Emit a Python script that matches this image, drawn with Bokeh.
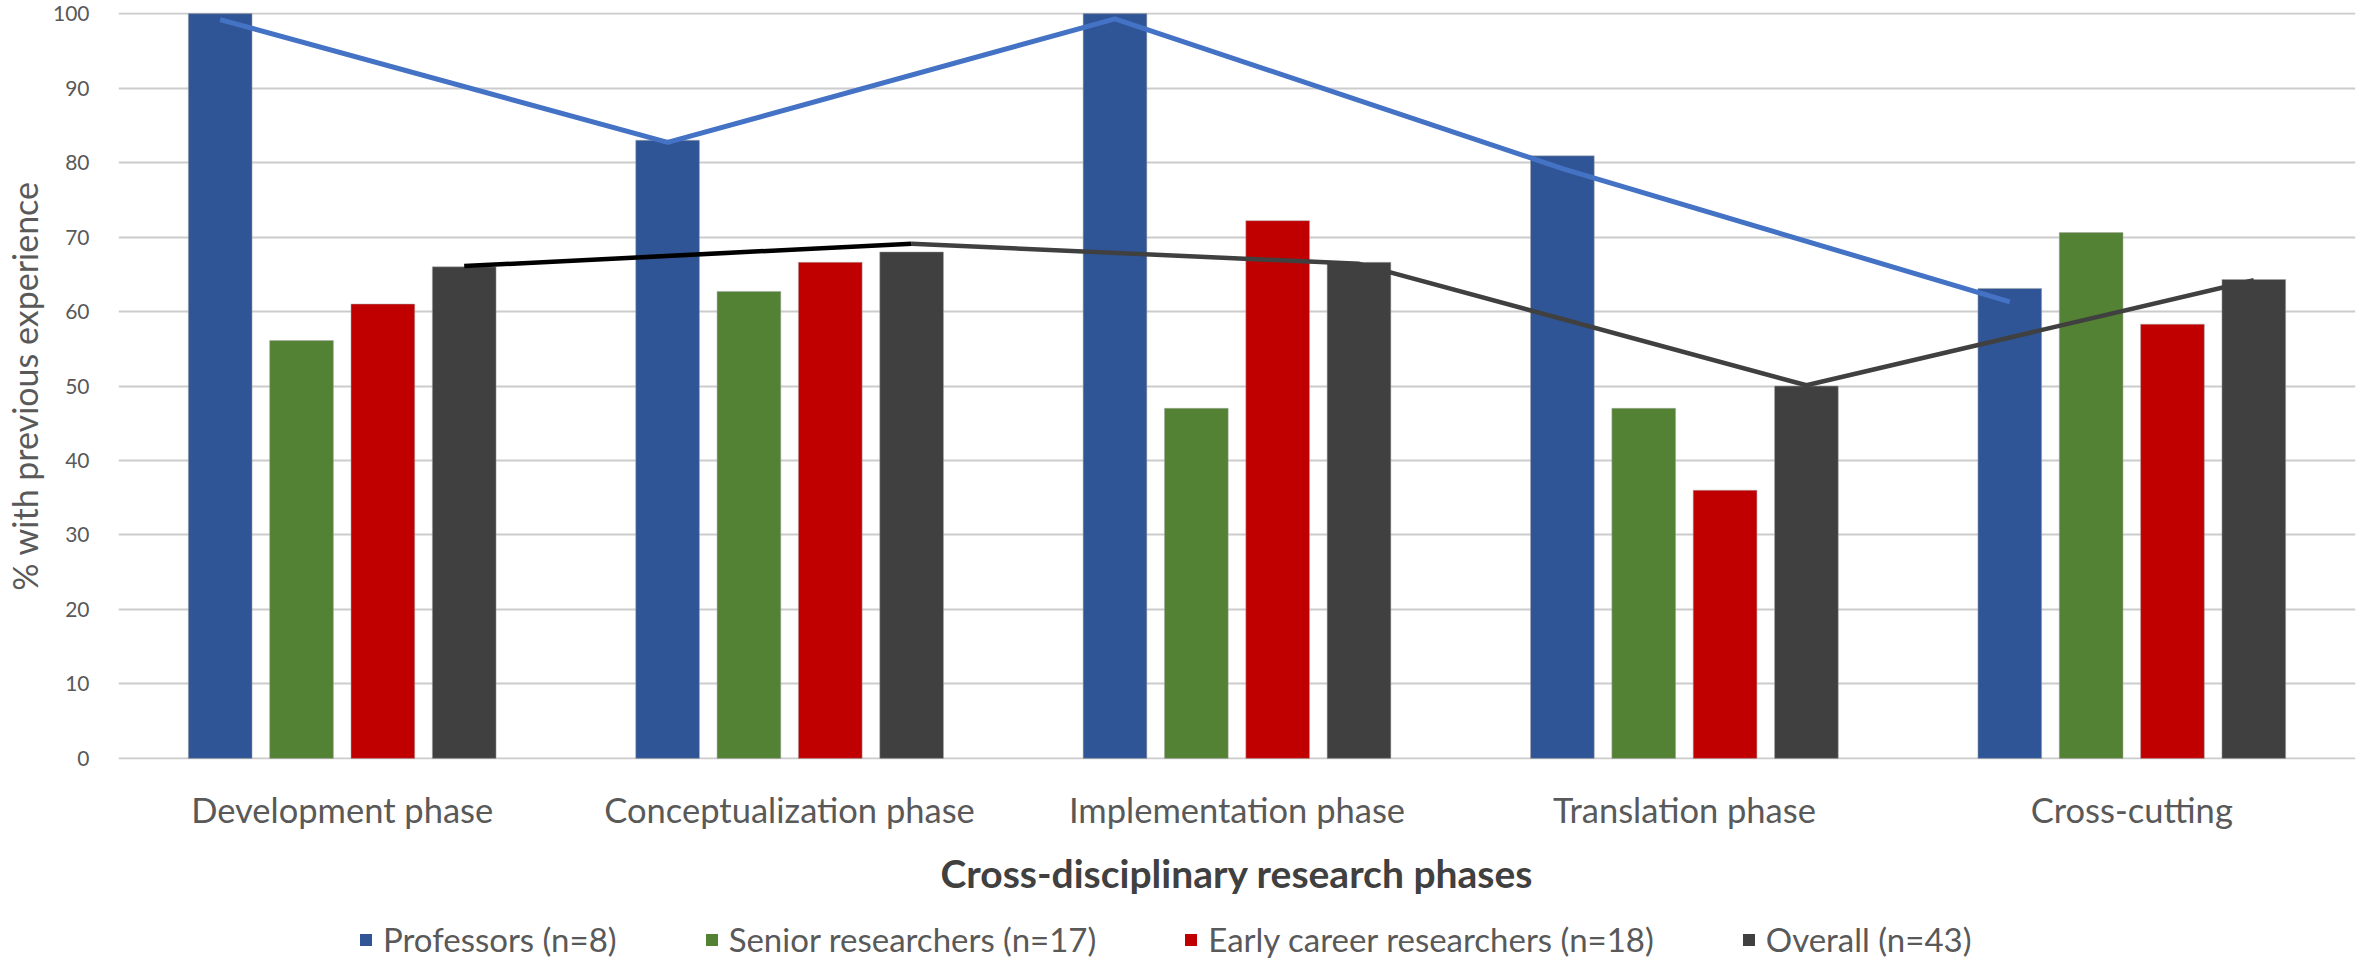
from bokeh.plotting import figure
from bokeh.layouts import column
from bokeh.models import (FactorRange, Range1d, ColumnDataSource, FixedTicker,
                          Legend, LegendItem)
from bokeh.transform import dodge
from bokeh.embed import file_html
from bokeh.resources import INLINE

# ---- data -------------------------------------------------------------
phases = ["Development phase", "Conceptualization phase", "Implementation phase",
          "Translation phase", "Cross-cutting"]
professors = [100.0, 83.0, 100.0, 80.9, 63.1]
senior = [56.1, 62.7, 47.0, 47.0, 70.6]
early_career = [61.0, 66.6, 72.2, 36.0, 58.3]
overall = [66.0, 68.0, 66.6, 50.0, 64.3]
professors_line = [99.2, 82.7, 99.3, 79.2, 61.3]
overall_line = [66.1, 69.1, 66.4, 50.1, 64.2]
series_labels = ["Professors (n=8)", "Senior researchers (n=17)",
                 "Early career researchers (n=18)", "Overall (n=43)"]
y_ticks = [0, 10, 20, 30, 40, 50, 60, 70, 80, 90, 100]
x_title = "Cross-disciplinary research phases"
y_title = "% with previous experience"

# ---- styling ----------------------------------------------------------
FONT = "Lato"
bar_colors = ["#2F5597", "#548235", "#C00000", "#404040"]
offsets = [-0.2727, -0.0909, 0.0909, 0.2727]
bar_width = 0.1424
keys = ["prof", "senior", "early", "overall"]

src = ColumnDataSource(dict(phase=phases, prof=professors, senior=senior,
                            early=early_career, overall=overall,
                            prof_line=professors_line, overall_line=overall_line))

p = figure(x_range=FactorRange(*phases), y_range=Range1d(-0.15, 100.15),
           width=2356, height=900, output_backend="svg", toolbar_location=None,
           min_border_left=108, min_border_right=1, min_border_top=12,
           min_border_bottom=141)
p.outline_line_color = None
p.background_fill_color = "white"
p.border_fill_color = "white"

for key, col, off in zip(keys, bar_colors, offsets):
    p.vbar(x=dodge("phase", off, range=p.x_range), top=key, width=bar_width,
           source=src, fill_color=col, line_color="#A6A6A6", line_alpha=0.5,
           line_width=1)

# professor trend line (light blue)
p.line(x=dodge("phase", offsets[0], range=p.x_range), y="prof_line", source=src,
       line_color="#4472C4", line_width=5)
# overall trend line: first segment black, remainder dark gray
seg1 = ColumnDataSource(dict(phase=phases[:2], v=overall_line[:2]))
seg2 = ColumnDataSource(dict(phase=phases[1:], v=overall_line[1:]))
p.line(x=dodge("phase", offsets[3], range=p.x_range), y="v", source=seg2,
       line_color="#404040", line_width=4.5)
p.line(x=dodge("phase", offsets[3], range=p.x_range), y="v", source=seg1,
       line_color="#000000", line_width=4.5)

# grid
p.xgrid.grid_line_color = None
p.ygrid.grid_line_color = "#CCCCCC"
p.ygrid.grid_line_width = 2
p.ygrid.ticker = FixedTicker(ticks=y_ticks)

# y axis
p.yaxis.ticker = FixedTicker(ticks=y_ticks)
p.yaxis.axis_line_color = None
p.yaxis.major_tick_line_color = None
p.yaxis.minor_tick_line_color = None
p.yaxis.major_label_standoff = 23
p.yaxis.major_label_text_font = FONT
p.yaxis.major_label_text_font_size = "21px"
p.yaxis.major_label_text_color = "#595959"
p.yaxis.axis_label = y_title
p.yaxis.axis_label_text_font = FONT
p.yaxis.axis_label_text_font_style = "normal"
p.yaxis.axis_label_text_font_size = "34px"
p.yaxis.axis_label_text_color = "#595959"
p.yaxis.axis_label_standoff = 5

# x axis
p.xaxis.axis_line_color = None
p.xaxis.major_tick_line_color = None
p.xaxis.minor_tick_line_color = None
p.xaxis.major_label_standoff = 23
p.xaxis.major_label_text_font = FONT
p.xaxis.major_label_text_font_size = "34.5px"
p.xaxis.major_label_text_color = "#595959"
p.xaxis.axis_label = x_title
p.xaxis.axis_label_text_font = FONT
p.xaxis.axis_label_text_font_style = "bold"
p.xaxis.axis_label_text_font_size = "39px"
p.xaxis.axis_label_text_color = "#404040"
p.xaxis.axis_label_standoff = 17

# ---- legend strip (separate figure under the chart) --------------------
leg = figure(x_range=FactorRange(*phases), y_range=Range1d(500, 501),
             width=2356, height=59, output_backend="svg", toolbar_location=None,
             min_border=0, x_axis_location=None, y_axis_location=None)
leg.outline_line_color = None
leg.grid.grid_line_color = None
leg_renderers = []
for key, col, off in zip(keys, bar_colors, offsets):
    r = leg.vbar(x=dodge("phase", off, range=leg.x_range), top=key, width=bar_width,
                 source=src, fill_color=col, line_color=None)
    leg_renderers.append(r)
items = [LegendItem(label=lab, renderers=[r]) for lab, r in zip(series_labels, leg_renderers)]
legend = Legend(items=items, orientation="horizontal", location=(240, 0),
                glyph_width=15, glyph_height=15, label_standoff=10, spacing=87,
                padding=0, margin=0, border_line_color=None,
                background_fill_alpha=0, label_text_font=FONT,
                label_text_font_size="33px", label_text_color="#595959")
leg.add_layout(legend, "center")

open("out.html", "w").write(file_html(column(p, leg, spacing=0), INLINE))
